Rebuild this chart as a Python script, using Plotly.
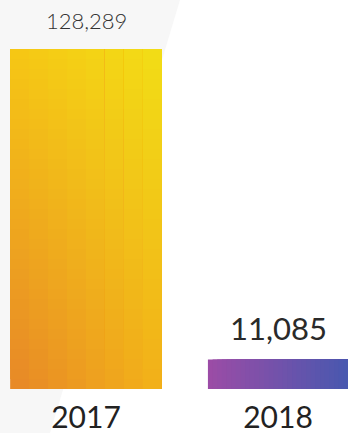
import plotly.graph_objects as go

categories = ["2017", "2018"]
values = [128289, 11085]
value_labels = ["128,289", "11,085"]

# Gradient colours (visual style)
c2017 = {"tl": (246, 198, 20), "tr": (242, 222, 22), "bl": (231, 134, 40), "br": (243, 178, 24)}
c2018 = {"l": (156, 76, 166), "r": (72, 88, 175)}

def mix(a, b, t):
    return tuple(a[i] + (b[i] - a[i]) * t for i in range(3))

def rgb(c):
    return "rgb(%d,%d,%d)" % tuple(int(round(v)) for v in c)

xpos = [0, 1]
widths = [0.79, 0.73]

fig = go.Figure()

# Bar 2017: diagonal gradient; each piece extends to the bar's top/right edge,
# later pieces cover earlier ones (no seams)
ncol, nrow = 8, 34
v = values[0]
w = widths[0]
for j in range(ncol):
    tx = (j + 0.5) / ncol
    bases, heights, cols = [], [], []
    for i in range(nrow):
        ty = (i + 0.5) / nrow  # 0 bottom -> 1 top
        bottom = mix(c2017["bl"], c2017["br"], tx)
        top = mix(c2017["tl"], c2017["tr"], tx)
        b = v * i / nrow
        bases.append(b)
        heights.append(v - b)
        cols.append(rgb(mix(bottom, top, ty)))
    left = -w / 2 + j * w / ncol
    fig.add_trace(go.Bar(
        x=[xpos[0]] * nrow, y=heights, base=bases,
        width=w / 2 - left, offset=left,
        marker=dict(color=cols, line=dict(width=0)),
        hoverinfo="skip", showlegend=False,
    ))

# Bar 2018: horizontal gradient
ncol2 = 30
v = values[1]
w = widths[1]
for j in range(ncol2):
    tx = (j + 0.5) / ncol2
    left = -w / 2 + j * w / ncol2
    fig.add_trace(go.Bar(
        x=[xpos[1]], y=[v],
        width=w / 2 - left, offset=left,
        marker=dict(color=rgb(mix(c2018["l"], c2018["r"], tx)), line=dict(width=0)),
        hoverinfo="skip", showlegend=False,
    ))

# Value labels
fig.add_annotation(x=xpos[0], y=values[0], text=value_labels[0], showarrow=False,
                   yanchor="bottom", yshift=13,
                   font=dict(family="Lato", size=22, color="#333333", weight=300))
fig.add_annotation(x=xpos[1], y=values[1], text=value_labels[1], showarrow=False,
                   yanchor="bottom", yshift=11,
                   font=dict(family="Lato", size=31, color="#2a2a2a"))

# Background diagonal light shape
H, W = 433, 348
plot_h = 389
def py(p):
    return 1 - p / plot_h
fig.add_shape(type="path",
              path="M 0 %f L %f %f L %f %f L 0 %f Z" % (py(0), 180 / W, py(0), 50 / W, py(H), py(H)),
              xref="paper", yref="paper", fillcolor="#f7f7f7", line=dict(width=0), layer="below")

ymax = values[0] * plot_h / 340
fig.update_layout(
    width=W, height=H,
    margin=dict(l=0, r=0, t=0, b=H - plot_h, autoexpand=False),
    barmode="overlay",
    paper_bgcolor="white", plot_bgcolor="rgba(0,0,0,0)",
    xaxis=dict(range=[-86 / 192, 262 / 192], tickvals=xpos, ticktext=categories,
               showgrid=False, zeroline=False, showline=False, ticks="",
               tickfont=dict(family="Lato", size=30, color="#222222"),
               ticklabelstandoff=8, automargin=False, fixedrange=True),
    yaxis=dict(range=[0, ymax], visible=False, fixedrange=True, automargin=False),
    showlegend=False,
)

fig.write_html("out.html", config={"displayModeBar": False})
